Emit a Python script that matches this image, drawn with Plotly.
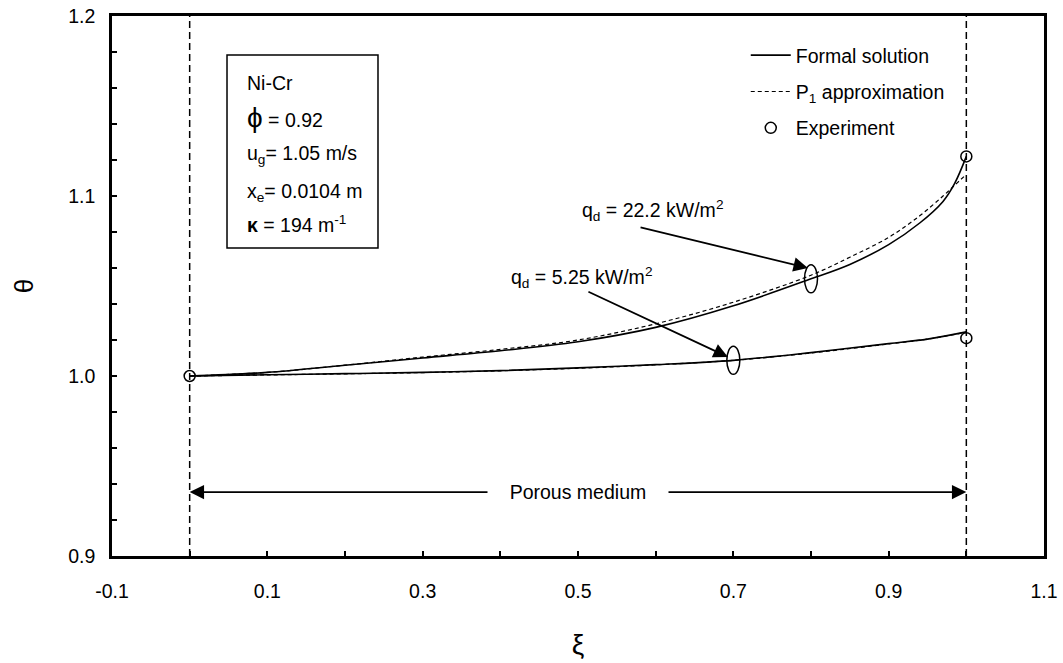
import plotly.graph_objects as go

# ---------------- data ----------------
xi_upper = [0.0, 0.1, 0.2, 0.3, 0.4, 0.5, 0.6, 0.7, 0.8, 0.85, 0.9, 0.94, 0.97, 0.985, 1.0]
formal_22 = [1.000, 1.002, 1.006, 1.010, 1.014, 1.019, 1.027, 1.039, 1.054, 1.062, 1.073, 1.085, 1.097, 1.107, 1.122]
p1_22 = [1.000, 1.002, 1.006, 1.0105, 1.0148, 1.020, 1.029, 1.041, 1.056, 1.066, 1.077, 1.089, 1.100, 1.106, 1.112]

xi_lower = [0.0, 0.1, 0.2, 0.3, 0.4, 0.5, 0.6, 0.7, 0.8, 0.9, 0.95, 1.0]
formal_5 = [1.000, 1.0007, 1.0013, 1.002, 1.003, 1.0045, 1.0063, 1.0087, 1.013, 1.018, 1.0205, 1.0245]
p1_5 = [1.000, 1.0006, 1.0012, 1.0019, 1.0029, 1.0043, 1.0062, 1.0087, 1.0128, 1.0178, 1.0205, 1.0243]

xi_exp = [0.0, 1.0, 1.0]
theta_exp = [1.000, 1.122, 1.021]

x_ticks = [-0.1, 0.1, 0.3, 0.5, 0.7, 0.9, 1.1]
x_ticklabels = ["-0.1", "0.1", "0.3", "0.5", "0.7", "0.9", "1.1"]
y_ticks = [0.9, 1.0, 1.1, 1.2]
y_ticklabels = ["0.9", "1.0", "1.1", "1.2"]

porous_bounds = [0.0, 1.0]
label_22 = "q<sub>d</sub> = 22.2 kW/m<sup>2</sup>"
label_5 = "q<sub>d</sub> = 5.25 kW/m<sup>2</sup>"
box_lines = [
    "Ni-Cr",
    "<span style='font-size:28px'>ϕ</span> = 0.92",
    "u<sub>g</sub>= 1.05 m/s",
    "x<sub>e</sub>= 0.0104 m",
    "<b>κ</b> = 194 m<sup>-1</sup>",
]

FONT = "Liberation Sans, Arial, sans-serif"
BLACK = "#000000"
FS = 19.5

fig = go.Figure()

fig.add_trace(go.Scatter(x=xi_upper, y=formal_22, mode="lines", name="Formal solution",
                         line=dict(color=BLACK, width=1.6), line_shape="spline",
                         legendgroup="a"))
fig.add_trace(go.Scatter(x=xi_lower, y=formal_5, mode="lines", name="Formal solution",
                         line=dict(color=BLACK, width=1.6), line_shape="spline",
                         legendgroup="a", showlegend=False))
fig.add_trace(go.Scatter(x=xi_upper, y=p1_22, mode="lines", name="P<sub>1</sub> approximation",
                         line=dict(color=BLACK, width=1.2, dash="4px,3px"), line_shape="spline",
                         legendgroup="b"))
fig.add_trace(go.Scatter(x=xi_lower, y=p1_5, mode="lines", name="P<sub>1</sub> approximation",
                         line=dict(color=BLACK, width=1.2, dash="4px,3px"), line_shape="spline",
                         legendgroup="b", showlegend=False))
fig.add_trace(go.Scatter(x=xi_exp, y=theta_exp, mode="markers", name="Experiment",
                         marker=dict(symbol="circle-open", size=11, color=BLACK,
                                     line=dict(width=1.5, color=BLACK)),
                         legendgroup="c"))

shapes = []
# porous medium boundaries (dashed verticals)
for xb in porous_bounds:
    shapes.append(dict(type="line", xref="x", yref="paper", x0=xb, x1=xb, y0=0, y1=1,
                       line=dict(color=BLACK, width=1.5, dash="7px,4px")))
# ellipses marking curves
i8 = xi_upper.index(0.8)
i7 = xi_lower.index(0.7)
for (cx, cy) in [(xi_upper[i8], formal_22[i8]), (xi_lower[i7], formal_5[i7])]:
    shapes.append(dict(type="circle", xref="x", yref="y", xsizemode="pixel", ysizemode="pixel",
                       xanchor=cx, yanchor=cy, x0=-6.5, x1=6.5, y0=-14, y1=14,
                       line=dict(color=BLACK, width=1.5)))
# info box
shapes.append(dict(type="rect", xref="paper", yref="paper", x0=0.1234, x1=0.2854,
                   y0=0.5704, y1=0.9278, line=dict(color=BLACK, width=1.5),
                   fillcolor="white", layer="below"))

annotations = []
# porous medium double arrow
y_por = 0.9355
mid = (porous_bounds[0] + porous_bounds[1]) / 2
for xb in porous_bounds:
    annotations.append(dict(x=xb, y=y_por, ax=mid, ay=y_por, xref="x", yref="y",
                            axref="x", ayref="y", text="", showarrow=True,
                            arrowhead=2, arrowsize=1.6, arrowwidth=1.8, arrowcolor=BLACK))
pad = "&nbsp;" * 4
annotations.append(dict(x=mid, y=y_por, xref="x", yref="y", text=pad + "Porous medium" + pad,
                        showarrow=False, bgcolor="white", borderpad=0,
                        font=dict(family=FONT, size=FS, color=BLACK),
                        xanchor="center", yanchor="middle"))
# series labels with arrows
annotations.append(dict(x=0.796, y=1.060, ax=0.5786, ay=1.0828, xref="x", yref="y",
                        axref="x", ayref="y", text="", showarrow=True,
                        arrowhead=2, arrowsize=1.6, arrowwidth=1.8, arrowcolor=BLACK))
annotations.append(dict(x=0.693, y=1.0106, ax=0.5115, ay=1.0472, xref="x", yref="y",
                        axref="x", ayref="y", text="", showarrow=True,
                        arrowhead=2, arrowsize=1.6, arrowwidth=1.8, arrowcolor=BLACK))
annotations.append(dict(x=0.5953, y=1.0922, xref="x", yref="y", text=label_22,
                        showarrow=False, font=dict(family=FONT, size=FS, color=BLACK),
                        xanchor="center", yanchor="middle"))
annotations.append(dict(x=0.504, y=1.055, xref="x", yref="y", text=label_5,
                        showarrow=False, font=dict(family=FONT, size=FS, color=BLACK),
                        xanchor="center", yanchor="middle"))
# info box text
box_y = [0.876, 0.812, 0.743, 0.673, 0.614]
for txt, yy in zip(box_lines, box_y):
    annotations.append(dict(x=0.1427, y=yy, xref="paper", yref="paper", text=txt,
                            showarrow=False, font=dict(family=FONT, size=FS, color=BLACK),
                            xanchor="left", yanchor="middle"))

fig.update_layout(
    width=1063, height=663,
    margin=dict(l=112, r=19, t=16, b=107),
    paper_bgcolor="white", plot_bgcolor="white",
    font=dict(family=FONT, size=FS, color=BLACK),
    shapes=shapes, annotations=annotations,
    legend=dict(x=0.68, y=0.963, xanchor="left", yanchor="top",
                bgcolor="rgba(0,0,0,0)", font=dict(family=FONT, size=FS, color=BLACK),
                tracegroupgap=8, itemwidth=40),
    showlegend=True,
)

fig.update_xaxes(range=[-0.1, 1.1], tickmode="array", tickvals=x_ticks, ticktext=x_ticklabels,
                 ticks="inside", ticklen=5, tickwidth=2, tickcolor=BLACK,
                 minor=dict(ticks="inside", tickmode="linear", tick0=0.0, dtick=0.1,
                            ticklen=5, tickwidth=2, tickcolor=BLACK, showgrid=False),
                 showline=True, linecolor=BLACK, linewidth=2.5, mirror=True,
                 showgrid=False, zeroline=False, ticklabelstandoff=16, automargin=False,
                 title=dict(text="ξ", font=dict(family=FONT, size=28, color=BLACK), standoff=34))
fig.update_yaxes(range=[0.9, 1.2], tickmode="array", tickvals=y_ticks, ticktext=y_ticklabels,
                 ticks="inside", ticklen=5, tickwidth=2, tickcolor=BLACK,
                 minor=dict(ticks="inside", tickmode="linear", tick0=0.9, dtick=0.02,
                            ticklen=5, tickwidth=2, tickcolor=BLACK, showgrid=False),
                 showline=True, linecolor=BLACK, linewidth=2.5, mirror=True,
                 showgrid=False, zeroline=False, ticklabelstandoff=10, automargin=False,
                 title=dict(text="θ", font=dict(family=FONT, size=26, color=BLACK), standoff=28))

fig.write_html("out.html")
